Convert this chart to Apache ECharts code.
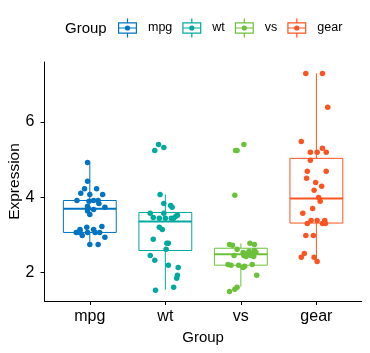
<!DOCTYPE html>
<html>
<head>
<meta charset="utf-8">
<script src="https://cdn.jsdelivr.net/npm/echarts@6/dist/echarts.min.js"></script>
<style>
  html, body { margin: 0; padding: 0; background: #fff; }
  #chart { width: 370px; height: 353px; }
</style>
</head>
<body>
<div id="chart"></div>
<script>
const groups = ["mpg", "wt", "vs", "gear"];
const colors = ["#0073C2", "#00A99D", "#6DC13A", "#FC5421"];
const yTicks = [2, 4, 6];

// box stats: low whisker, q1, median, q3, high whisker
const mpgBox = [2.74, 3.06, 3.69, 3.91, 4.92];
const wtBox = [1.54, 2.58, 3.35, 3.59, 4.07];
const vsBox = [1.62, 2.19, 2.48, 2.64, 2.77];
const gearBox = [2.24, 3.31, 3.96, 5.03, 7.29];

// jittered points: [x offset from group centre, value]
const mpgPoints = [
  [-0.03, 4.92], [-0.03, 4.42], [-0.07, 4.22], [0.09, 4.22], [-0.12, 4.10],
  [0.00, 4.07], [0.17, 4.07], [-0.17, 3.91], [-0.01, 3.89], [0.05, 3.91],
  [0.11, 3.91], [0.12, 3.83], [-0.03, 3.76], [0.20, 3.73], [0.05, 3.67],
  [-0.03, 3.63], [0.00, 3.54], [-0.02, 3.70], [-0.04, 3.20], [0.16, 3.22],
  [-0.13, 3.14], [-0.18, 3.06], [-0.14, 3.06], [-0.10, 2.98], [-0.03, 3.06],
  [0.05, 3.14], [0.07, 3.06], [0.13, 3.06], [0.20, 2.93], [0.00, 2.74],
  [0.11, 2.74], [-0.13, 3.10]
];
const wtPoints = [
  [-0.09, 5.40], [-0.14, 5.24], [-0.02, 5.32], [-0.07, 4.07], [-0.02, 3.83],
  [0.07, 3.78], [0.09, 3.73], [-0.20, 3.57], [-0.16, 3.46], [-0.02, 3.57],
  [0.16, 3.52], [-0.08, 3.44], [0.00, 3.44], [0.08, 3.44], [0.11, 3.44],
  [0.14, 3.49], [-0.08, 3.20], [-0.04, 3.14], [-0.16, 2.88], [0.02, 2.77],
  [0.04, 2.77], [0.01, 2.61], [-0.20, 2.45], [-0.14, 2.32], [0.04, 2.19],
  [0.17, 2.13], [0.16, 1.92], [0.15, 1.84], [0.11, 1.60], [-0.13, 1.52]
];
const vsPoints = [
  [0.04, 5.40], [-0.07, 5.24], [-0.05, 5.24], [-0.08, 4.05], [-0.15, 2.74],
  [-0.11, 2.72], [0.12, 2.77], [0.18, 2.74], [-0.05, 2.61], [0.03, 2.53],
  [0.11, 2.56], [0.18, 2.58], [-0.09, 2.45], [0.04, 2.45], [0.07, 2.42],
  [0.13, 2.45], [0.17, 2.42], [0.20, 2.53], [0.08, 2.50], [0.15, 2.50],
  [-0.17, 2.21], [-0.13, 2.19], [-0.03, 2.19], [0.03, 2.13], [0.05, 2.16],
  [0.15, 2.21], [0.21, 1.92], [-0.05, 1.60], [-0.08, 1.55], [-0.15, 1.49]
];
const gearPoints = [
  [-0.14, 7.29], [0.08, 7.29], [0.15, 6.39], [-0.20, 5.48], [0.08, 5.30],
  [-0.08, 5.19], [0.01, 5.19], [0.13, 5.19], [-0.08, 4.98], [-0.12, 4.69],
  [0.13, 4.69], [-0.13, 4.50], [-0.01, 4.39], [0.07, 4.29], [-0.03, 4.18],
  [0.03, 3.99], [0.05, 3.89], [-0.05, 3.70], [-0.18, 3.57], [-0.07, 3.38],
  [0.01, 3.38], [0.11, 3.38], [-0.12, 3.30], [0.08, 3.30], [0.12, 3.30],
  [-0.14, 2.98], [-0.04, 2.98], [-0.16, 2.50], [-0.20, 2.40], [-0.03, 2.40],
  [0.01, 2.29]
];

const boxes = [mpgBox, wtBox, vsBox, gearBox];
const points = [mpgPoints, wtPoints, vsPoints, gearPoints];
const boxWidth = 0.7;

// legend icon: outlined box with median line, whiskers and a dot
const legendIcon = "path://M0 3.8H19V5H0Z M0 14H19V15.2H0Z M0 3.8H1.2V15.2H0Z M17.8 3.8H19V15.2H17.8Z" +
  "M0 8.9H19V10.1H0Z M8.9 0H10.1V3.8H8.9Z M8.9 15.2H10.1V19H8.9Z" +
  "M6.9 9.5A2.6 2.6 0 1 1 12.1 9.5A2.6 2.6 0 1 1 6.9 9.5Z";

function renderBox(params, api) {
  const x = api.value(0);
  const low = api.coord([x, api.value(1)]);
  const q1 = api.coord([x, api.value(2)]);
  const med = api.coord([x, api.value(3)]);
  const q3 = api.coord([x, api.value(4)]);
  const high = api.coord([x, api.value(5)]);
  const half = api.size([boxWidth, 0])[0] / 2;
  const color = api.visual("color");
  return {
    type: "group",
    children: [
      { type: "line", shape: { x1: high[0], y1: high[1], x2: q3[0], y2: q3[1] }, style: { stroke: color, lineWidth: 1 } },
      { type: "line", shape: { x1: q1[0], y1: q1[1], x2: low[0], y2: low[1] }, style: { stroke: color, lineWidth: 1 } },
      { type: "rect", shape: { x: q1[0] - half, y: q3[1], width: half * 2, height: q1[1] - q3[1] }, style: { fill: "#fff", stroke: color, lineWidth: 1 } },
      { type: "line", shape: { x1: med[0] - half, y1: med[1], x2: med[0] + half, y2: med[1] }, style: { stroke: color, lineWidth: 2 } }
    ]
  };
}

const series = [];
groups.forEach(function (g, i) {
  series.push({
    name: g,
    type: "custom",
    renderItem: renderBox,
    itemStyle: { color: colors[i] },
    encode: { x: 0, y: [1, 2, 3, 4, 5] },
    data: [[i + 1].concat(boxes[i])],
    z: 2
  });
});
groups.forEach(function (g, i) {
  series.push({
    name: g,
    type: "scatter",
    symbolSize: 5.5,
    itemStyle: { color: colors[i], opacity: 1 },
    data: points[i].map(function (p) { return [i + 1 + p[0], p[1]]; }),
    z: 3
  });
});

const chart = echarts.init(document.getElementById("chart"));
chart.setOption({
  animation: false,
  textStyle: { fontFamily: "Liberation Sans, Arial, sans-serif" },
  title: {
    text: "Group",
    left: 65,
    top: 21,
    padding: 0,
    textStyle: { fontSize: 15, fontWeight: "normal", color: "#000", fontFamily: "Liberation Sans, Arial, sans-serif" }
  },
  legend: {
    data: groups.map(function (g) { return { name: g, icon: legendIcon }; }),
    left: 118,
    top: 18.5,
    padding: 0,
    itemWidth: 19,
    itemHeight: 19,
    itemGap: 10,
    selectedMode: false,
    textStyle: { fontSize: 12.5, color: "#000", padding: [2, 0, 0, 6] }
  },
  grid: { left: 44.5, right: 8.3, top: 62, bottom: 52, outerBoundsMode: "none", containLabel: false },
  xAxis: {
    type: "value",
    min: 0.4,
    max: 4.6,
    name: "Group",
    nameLocation: "middle",
    nameGap: 29.5,
    nameMoveOverlap: false,
    nameTextStyle: { fontSize: 15, color: "#000" },
    splitLine: { show: false },
    axisLine: { show: true, lineStyle: { color: "#000", width: 1 } },
    axisTick: { show: true, length: 4, customValues: [1, 2, 3, 4], lineStyle: { color: "#000" } },
    axisLabel: {
      fontSize: 16,
      color: "#000",
      margin: 8,
      customValues: [1, 2, 3, 4],
      formatter: function (v) { return groups[Math.round(v) - 1]; }
    }
  },
  yAxis: {
    type: "value",
    min: 1.237,
    max: 7.593,
    name: "Expression",
    nameLocation: "middle",
    nameGap: 22,
    nameMoveOverlap: false,
    nameTextStyle: { fontSize: 15.5, color: "#000" },
    splitLine: { show: false },
    axisLine: { show: true, lineStyle: { color: "#000", width: 1 } },
    axisTick: { show: true, length: 4, customValues: yTicks, lineStyle: { color: "#000" } },
    axisLabel: { fontSize: 16, color: "#000", margin: 10, customValues: yTicks }
  },
  series: series
});
</script>
</body>
</html>
